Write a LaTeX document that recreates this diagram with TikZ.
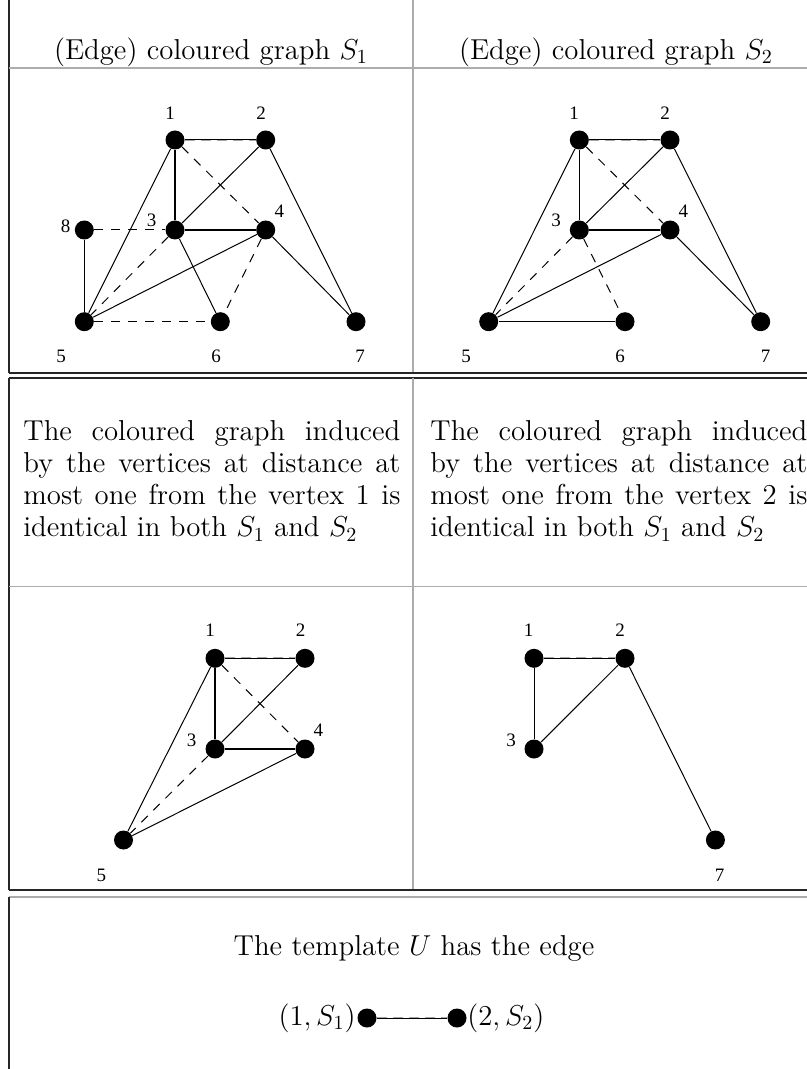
\documentclass[tikz,border=0pt]{standalone}
\usepackage{fontspec}
\newfontfamily\labfont{Liberation Serif}
\begin{document}
\begin{tikzpicture}[x=0.5pt,y=-0.5pt,
  v/.style={circle, fill=black, inner sep=0pt, minimum size=9.5pt},
  lab/.style={font=\labfont\fontsize{9.5}{10}\selectfont, inner sep=0pt},
  txt/.style={font=\fontsize{14.4}{16}\selectfont, inner sep=0pt},
  sol/.style={line width=0.5pt},
  thk/.style={line width=0.9pt},
  dsh/.style={line width=0.5pt, dash pattern=on 4.5pt off 4pt},
  mixg/.style={line width=1pt, gray!70, dash pattern=on 5pt off 3pt},
  outer/.style={line width=0.6pt, black!85},
  inner/.style={line width=0.7pt, gray!65}]
\useasboundingbox (0,0) rectangle (807,1069);
% ---------- table lines ----------
\draw[outer] (9,0)--(9,373);
\draw[inner] (413,0)--(413,373);
\draw[inner] (9,68)--(807,68);
\draw[outer] (9,373)--(807,373);
\draw[outer] (9,378)--(807,378);
\draw[outer] (9,378)--(9,890);
\draw[inner] (413,378)--(413,890);
\draw[inner] (9,586.7)--(807,586.7);
\draw[outer] (9,890)--(807,890);
\draw[inner] (9,897)--(807,897);
\draw[outer] (9,897)--(9,1069);
% ---------- headers ----------
\node[txt, anchor=base] (h1) at (211,59.5) {(Edge) coloured graph $S_1$};
\node[txt, anchor=base] (h2) at (616,59.5) {(Edge) coloured graph $S_2$};
% ---------- graph S1 ----------
\node[v] (a1) at (175,140) {};
\node[v] (a2) at (265.7,140) {};
\node[v] (a3) at (175,230) {};
\node[v] (a4) at (265.7,230) {};
\node[v] (a8) at (84.3,230) {};
\node[v] (a5) at (84.3,321.7) {};
\node[v] (a6) at (220.3,321.7) {};
\node[v] (a7) at (356,321.7) {};
\node[lab] (la1) at (170,113) {1};
\node[lab] (la2) at (261,113) {2};
\node[lab] (la3) at (151.7,220.7) {3};
\node[lab] (la4) at (279.3,211) {4};
\node[lab] (la5) at (61,356.7) {5};
\node[lab] (la6) at (216,356.7) {6};
\node[lab] (la7) at (360,356.7) {7};
\node[lab] (la8) at (65.7,226) {8};
\draw[mixg] (a1)--(a2); \draw[sol] (a1)--(a2);
\draw[thk] (a1)--(a3);
\draw[sol] (a1)--(a5);
\draw[dsh] (a1)--(a4);
\draw[sol] (a2)--(a3);
\draw[sol] (a2)--(a7);
\draw[thk] (a3)--(a4);
\draw[dsh] (a3)--(a5);
\draw[sol] (a3)--(a6);
\draw[dsh] (a8)--(a3);
\draw[sol] (a4)--(a5);
\draw[dsh] (a4)--(a6);
\draw[sol] (a4)--(a7);
\draw[dsh] (a5)--(a6);
\draw[sol] (a8)--(a5);
% ---------- graph S2 ----------
\node[v] (b1) at (579.3,140) {};
\node[v] (b2) at (670,140) {};
\node[v] (b3) at (579.3,230) {};
\node[v] (b4) at (670,230) {};
\node[v] (b5) at (488.7,321.7) {};
\node[v] (b6) at (625,321.7) {};
\node[v] (b7) at (760.7,321.7) {};
\node[lab] (lb1) at (574,113) {1};
\node[lab] (lb2) at (665,113) {2};
\node[lab] (lb3) at (556,220.7) {3};
\node[lab] (lb4) at (683.3,211) {4};
\node[lab] (lb5) at (466,356.7) {5};
\node[lab] (lb6) at (620,356.7) {6};
\node[lab] (lb7) at (765.7,356.7) {7};
\draw[mixg] (b1)--(b2); \draw[sol] (b1)--(b2);
\draw[sol] (b1)--(b3);
\draw[dsh] (b1)--(b4);
\draw[sol] (b1)--(b5);
\draw[sol] (b2)--(b3);
\draw[sol] (b2)--(b7);
\draw[thk] (b3)--(b4);
\draw[dsh] (b3)--(b5);
\draw[dsh] (b3)--(b6);
\draw[sol] (b4)--(b5);
\draw[sol] (b4)--(b7);
\draw[sol] (b5)--(b6);
% ---------- paragraphs ----------
\node[txt, anchor=base west] (p1) at (23,440.7) {\parbox[t]{188.5pt}{\parindent0pt The coloured graph induced\linebreak by the vertices at distance at\linebreak most one from the vertex 1 is\linebreak identical in both $S_1$ and $S_2$}};
\node[txt, anchor=base west] (p2) at (430,440.7) {\parbox[t]{188.5pt}{\parindent0pt The coloured graph induced\linebreak by the vertices at distance at\linebreak most one from the vertex 2 is\linebreak identical in both $S_1$ and $S_2$}};
% ---------- induced graph of vertex 1 ----------
\node[v] (c1) at (215,658.3) {};
\node[v] (c2) at (305,658.3) {};
\node[v] (c3) at (215,749) {};
\node[v] (c4) at (305,749) {};
\node[v] (c5) at (123.5,840) {};
\node[lab] (lc1) at (210,630.7) {1};
\node[lab] (lc2) at (300.7,630.7) {2};
\node[lab] (lc3) at (191.7,740) {3};
\node[lab] (lc4) at (318.3,730.7) {4};
\node[lab] (lc5) at (101.4,875.7) {5};
\draw[mixg] (c1)--(c2); \draw[sol] (c1)--(c2);
\draw[thk] (c1)--(c3);
\draw[dsh] (c1)--(c4);
\draw[sol] (c1)--(c5);
\draw[sol] (c2)--(c3);
\draw[thk] (c3)--(c4);
\draw[dsh] (c3)--(c5);
\draw[sol] (c4)--(c5);
% ---------- induced graph of vertex 2 ----------
\node[v] (d1) at (534,658.3) {};
\node[v] (d2) at (625,658.3) {};
\node[v] (d3) at (534,749) {};
\node[v] (d7) at (715.4,840) {};
\node[lab] (ld1) at (528.7,630.7) {1};
\node[lab] (ld2) at (620,630.7) {2};
\node[lab] (ld3) at (511,740) {3};
\node[lab] (ld7) at (719.5,875.7) {7};
\draw[mixg] (d1)--(d2); \draw[sol] (d1)--(d2);
\draw[sol] (d1)--(d3);
\draw[sol] (d2)--(d3);
\draw[sol] (d2)--(d7);
% ---------- template ----------
\node[txt, anchor=base] (u) at (414,955) {The template $U$ has the edge};
\node[v] (t1) at (367,1018) {};
\node[v] (t2) at (457,1018) {};
\node[txt, anchor=base east] (l1) at (356,1025) {$(1,S_1)$};
\node[txt, anchor=base west] (l2) at (467,1025) {$(2,S_2)$};
\draw[mixg] (t1)--(t2); \draw[sol] (t1)--(t2);
\end{tikzpicture}
\end{document}
